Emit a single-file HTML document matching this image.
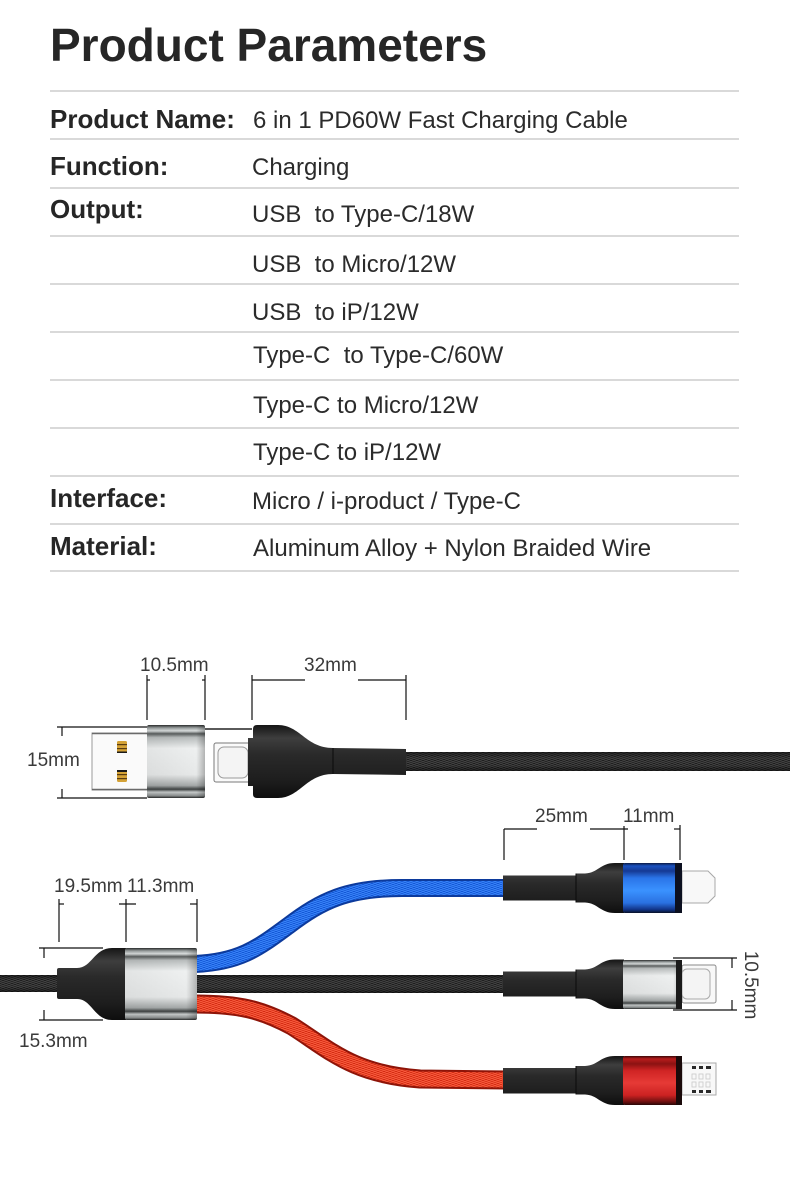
<!DOCTYPE html>
<html>
<head>
<meta charset="utf-8">
<style>
  html, body { margin:0; padding:0; background:#ffffff; }
  body { width:790px; height:1200px; overflow:hidden; position:relative; }
  svg { position:absolute; left:0; top:0; display:block; }
  .t { font-family:"Liberation Sans", Arial, sans-serif; fill:#262626; }
  .lb { font-weight:bold; font-size:26px; }
  .vl { font-size:24px; fill:#2b2b2b; }
  .dm { font-size:19px; fill:#3a3a3a; }
</style>
</head>
<body>
<svg width="790" height="1200" viewBox="0 0 790 1200" xmlns="http://www.w3.org/2000/svg">
  <defs>
    <pattern id="bk" width="6" height="4" patternUnits="userSpaceOnUse">
      <rect width="6" height="4" fill="#1d1d1d"/>
      <path d="M0,0 L3,2 L6,0 M0,2 L3,4 L6,2" stroke="#4a4a4a" stroke-width="0.8" fill="none"/>
    </pattern>
    <pattern id="bl" width="6" height="4" patternUnits="userSpaceOnUse">
      <rect width="6" height="4" fill="#1356d6"/>
      <path d="M0,0 L3,2 L6,0 M0,2 L3,4 L6,2" stroke="#3f8cff" stroke-width="0.8" fill="none"/>
    </pattern>
    <pattern id="rd" width="6" height="4" patternUnits="userSpaceOnUse">
      <rect width="6" height="4" fill="#d42a12"/>
      <path d="M0,0 L3,2 L6,0 M0,2 L3,4 L6,2" stroke="#ff6545" stroke-width="0.8" fill="none"/>
    </pattern>
    <linearGradient id="shade" x1="0" y1="0" x2="0" y2="1">
      <stop offset="0" stop-color="#000" stop-opacity="0.45"/>
      <stop offset="0.3" stop-color="#000" stop-opacity="0"/>
      <stop offset="0.7" stop-color="#000" stop-opacity="0"/>
      <stop offset="1" stop-color="#000" stop-opacity="0.5"/>
    </linearGradient>
    <linearGradient id="metal" x1="0" y1="0" x2="0" y2="1">
      <stop offset="0" stop-color="#2a2c2c"/>
      <stop offset="0.04" stop-color="#9aa0a0"/>
      <stop offset="0.08" stop-color="#d8dcdc"/>
      <stop offset="0.12" stop-color="#5a5e5e"/>
      <stop offset="0.17" stop-color="#b8bcbc"/>
      <stop offset="0.32" stop-color="#eef0f0"/>
      <stop offset="0.68" stop-color="#e6e8e8"/>
      <stop offset="0.83" stop-color="#a4a8a8"/>
      <stop offset="0.88" stop-color="#3e4242"/>
      <stop offset="0.92" stop-color="#c4c8c8"/>
      <stop offset="0.97" stop-color="#8a8e8e"/>
      <stop offset="1" stop-color="#262828"/>
    </linearGradient>
    <linearGradient id="metalH" x1="0" y1="0" x2="1" y2="0">
      <stop offset="0" stop-color="#000" stop-opacity="0.05"/>
      <stop offset="0.85" stop-color="#000" stop-opacity="0"/>
      <stop offset="1" stop-color="#000" stop-opacity="0.25"/>
    </linearGradient>
    <linearGradient id="blue" x1="0" y1="0" x2="0" y2="1">
      <stop offset="0" stop-color="#0a1a44"/>
      <stop offset="0.06" stop-color="#1a52c0"/>
      <stop offset="0.16" stop-color="#163a94"/>
      <stop offset="0.3" stop-color="#2a74e8"/>
      <stop offset="0.55" stop-color="#3a92ff"/>
      <stop offset="0.8" stop-color="#2a70e0"/>
      <stop offset="0.93" stop-color="#113488"/>
      <stop offset="1" stop-color="#081026"/>
    </linearGradient>
    <linearGradient id="red" x1="0" y1="0" x2="0" y2="1">
      <stop offset="0" stop-color="#3c0808"/>
      <stop offset="0.06" stop-color="#b81c1c"/>
      <stop offset="0.16" stop-color="#8c1212"/>
      <stop offset="0.3" stop-color="#d02424"/>
      <stop offset="0.55" stop-color="#e63a36"/>
      <stop offset="0.8" stop-color="#cc2222"/>
      <stop offset="0.93" stop-color="#701010"/>
      <stop offset="1" stop-color="#2a0606"/>
    </linearGradient>
    <linearGradient id="boot" x1="0" y1="0" x2="0" y2="1">
      <stop offset="0" stop-color="#151515"/>
      <stop offset="0.18" stop-color="#3e3e3e"/>
      <stop offset="0.4" stop-color="#2a2a2a"/>
      <stop offset="0.75" stop-color="#1e1e1e"/>
      <stop offset="1" stop-color="#0e0e0e"/>
    </linearGradient>
  </defs>

  <!-- ===== Title ===== -->
  <text class="t" x="50" y="61" font-size="46" font-weight="bold" fill="#222">Product Parameters</text>

  <!-- ===== Table lines ===== -->
  <g stroke="#d9d9d9" stroke-width="2">
    <line x1="50" y1="91" x2="739" y2="91"/>
    <line x1="50" y1="139" x2="739" y2="139"/>
    <line x1="50" y1="188" x2="739" y2="188"/>
    <line x1="50" y1="236" x2="739" y2="236"/>
    <line x1="50" y1="284" x2="739" y2="284"/>
    <line x1="50" y1="332" x2="739" y2="332"/>
    <line x1="50" y1="380" x2="739" y2="380"/>
    <line x1="50" y1="428" x2="739" y2="428"/>
    <line x1="50" y1="476" x2="739" y2="476"/>
    <line x1="50" y1="524" x2="739" y2="524"/>
    <line x1="50" y1="571" x2="739" y2="571"/>
  </g>

  <!-- labels -->
  <text class="t lb" x="50" y="128">Product Name:</text>
  <text class="t lb" x="50" y="175">Function:</text>
  <text class="t lb" x="50" y="218">Output:</text>
  <text class="t lb" x="50" y="507">Interface:</text>
  <text class="t lb" x="50" y="555">Material:</text>

  <!-- values -->
  <text class="t vl" x="253" y="128">6 in 1 PD60W Fast Charging Cable</text>
  <text class="t vl" x="252" y="175">Charging</text>
  <text class="t vl" x="252" y="222" xml:space="preserve">USB  to Type-C/18W</text>
  <text class="t vl" x="252" y="272" xml:space="preserve">USB  to Micro/12W</text>
  <text class="t vl" x="252" y="320" xml:space="preserve">USB  to iP/12W</text>
  <text class="t vl" x="253" y="363" xml:space="preserve">Type-C  to Type-C/60W</text>
  <text class="t vl" x="253" y="413">Type-C to Micro/12W</text>
  <text class="t vl" x="253" y="460">Type-C to iP/12W</text>
  <text class="t vl" x="252" y="509">Micro / i-product / Type-C</text>
  <text class="t vl" x="253" y="556">Aluminum Alloy + Nylon Braided Wire</text>

  <!-- ===== Top cable (USB + Type-C) ===== -->
  <!-- dimension lines -->
  <g stroke="#111" stroke-width="1.2" fill="none">
    <line x1="147" y1="675" x2="147" y2="720"/>
    <line x1="147" y1="680" x2="150" y2="680"/>
    <line x1="205" y1="675" x2="205" y2="720"/>
    <line x1="202" y1="680" x2="205" y2="680"/>
    <line x1="252" y1="675" x2="252" y2="720"/>
    <line x1="406" y1="675" x2="406" y2="720"/>
    <line x1="252" y1="680" x2="305" y2="680"/>
    <line x1="358" y1="680" x2="406" y2="680"/>
    <line x1="57" y1="727" x2="147" y2="727"/>
    <line x1="57" y1="798" x2="147" y2="798"/>
    <line x1="62" y1="727" x2="62" y2="736"/>
    <line x1="62" y1="789" x2="62" y2="798"/>
  </g>
  <text class="t dm" x="140" y="671">10.5mm</text>
  <text class="t dm" x="304" y="671">32mm</text>
  <text class="t dm" x="27" y="766">15mm</text>

  <!-- black braided cable -->
  <rect x="404" y="752" width="386" height="19" fill="url(#bk)"/>
  <rect x="404" y="752" width="386" height="19" fill="url(#shade)"/>

  <!-- USB-A plug -->
  <rect x="92" y="733" width="56" height="57" fill="#fafafa" stroke="#9a9a9a" stroke-width="1"/>
  <line x1="92" y1="733.5" x2="148" y2="733.5" stroke="#6a6a6a" stroke-width="1.5"/>
  <line x1="92" y1="789.5" x2="148" y2="789.5" stroke="#6a6a6a" stroke-width="1.5"/>
  <g>
    <rect x="117" y="741" width="10" height="12" rx="1.5" fill="#d4a236"/>
    <rect x="117" y="744" width="10" height="1.2" fill="#5a3c10"/>
    <rect x="117" y="748" width="10" height="1.2" fill="#5a3c10"/>
    <rect x="117" y="751.5" width="10" height="1.5" fill="#1a1a1a"/>
    <rect x="117" y="770" width="10" height="12" rx="1.5" fill="#d4a236"/>
    <rect x="117" y="770" width="10" height="2" fill="#1a1a1a"/>
    <rect x="117" y="774" width="10" height="1.2" fill="#5a3c10"/>
    <rect x="117" y="778" width="10" height="1.2" fill="#5a3c10"/>
  </g>
  <!-- metal housing -->
  <rect x="147" y="725" width="58" height="73" rx="2" fill="url(#metal)"/>
  <rect x="147" y="725" width="58" height="73" rx="2" fill="url(#metalH)"/>
  <!-- thin connecting line -->
  <line x1="205" y1="729" x2="252" y2="729" stroke="#5a5a5a" stroke-width="2"/>
  <!-- Type-C plug -->
  <rect x="214" y="743" width="36" height="39" rx="2" fill="#fafafa" stroke="#7a7a7a" stroke-width="1"/>
  <rect x="218" y="747" width="30" height="31" rx="6" fill="#f4f4f4" stroke="#9a9a9a" stroke-width="1"/>
  <!-- boot -->
  <path d="M248,738 L253,738 L253,729 Q253,725 257,725 L278,725 C300,725 306,748 333,748 L406,749 L406,775 L333,774 C306,774 300,798 278,798 L257,798 Q253,798 253,794 L253,786 L248,786 Z" fill="url(#boot)"/>
  <line x1="333" y1="748" x2="333" y2="774" stroke="#0a0a0a" stroke-width="1"/>

  <!-- ===== Bottom cable (splitter) ===== -->
  <g stroke="#111" stroke-width="1.2" fill="none">
    <line x1="59" y1="899" x2="59" y2="942"/>
    <line x1="59" y1="904" x2="64" y2="904"/>
    <line x1="126" y1="899" x2="126" y2="942"/>
    <line x1="119" y1="904" x2="136" y2="904"/>
    <line x1="197" y1="899" x2="197" y2="942"/>
    <line x1="190" y1="904" x2="197" y2="904"/>
    <line x1="39" y1="948" x2="103" y2="948"/>
    <line x1="39" y1="1020" x2="103" y2="1020"/>
    <line x1="44" y1="948" x2="44" y2="958"/>
    <line x1="44" y1="1010" x2="44" y2="1020"/>
  </g>
  <text class="t dm" x="54" y="892">19.5mm</text>
  <text class="t dm" x="127" y="892">11.3mm</text>
  <text class="t dm" x="19" y="1047">15.3mm</text>

  <!-- left black cable -->
  <rect x="0" y="975" width="60" height="17" fill="url(#bk)"/>
  <rect x="0" y="975" width="60" height="17" fill="url(#shade)"/>

  <!-- blue curved cable -->
  <path d="M195,964 C240,962 258,948 288,926 C322,900 348,888 402,888 L506,888" stroke="#0c3a9c" stroke-width="18" fill="none"/>
  <path d="M195,964 C240,962 258,948 288,926 C322,900 348,888 402,888 L506,888" stroke="url(#bl)" stroke-width="14" fill="none"/>
  <!-- red curved cable -->
  <path d="M195,1004 C240,1004 262,1010 292,1026 C330,1050 352,1074 420,1079 L506,1080" stroke="#8e1408" stroke-width="19" fill="none"/>
  <path d="M195,1004 C240,1004 262,1010 292,1026 C330,1050 352,1074 420,1079 L506,1080" stroke="url(#rd)" stroke-width="15" fill="none"/>
  <!-- black middle cable -->
  <rect x="195" y="975" width="311" height="18" fill="url(#bk)"/>
  <rect x="195" y="975" width="311" height="18" fill="url(#shade)"/>

  <!-- splitter boot -->
  <path d="M57,970 Q57,968 59,968 L77,968 C92,968 94,948 112,948 L126,948 L126,1020 L112,1020 C94,1020 92,999 77,999 L59,999 Q57,999 57,997 Z" fill="url(#boot)"/>
  <!-- splitter metal sleeve -->
  <rect x="125" y="948" width="72" height="72" rx="2" fill="url(#metal)"/>
  <rect x="125" y="948" width="72" height="72" rx="2" fill="url(#metalH)"/>

  <!-- ===== Right connectors ===== -->
  <!-- dims -->
  <g stroke="#111" stroke-width="1.2" fill="none">
    <line x1="504" y1="829" x2="504" y2="860"/>
    <line x1="504" y1="829" x2="537" y2="829"/>
    <line x1="590" y1="829" x2="628" y2="829"/>
    <line x1="624" y1="826" x2="624" y2="860"/>
    <line x1="674" y1="829" x2="680" y2="829"/>
    <line x1="680" y1="825" x2="680" y2="860"/>
    <line x1="673" y1="958" x2="737" y2="958"/>
    <line x1="673" y1="1010" x2="737" y2="1010"/>
    <line x1="732" y1="958" x2="732" y2="968"/>
    <line x1="732" y1="1000" x2="732" y2="1010"/>
  </g>
  <text class="t dm" x="535" y="822">25mm</text>
  <text class="t dm" x="623" y="822">11mm</text>
  <text class="t dm" x="0" y="0" text-anchor="middle" transform="translate(745,985) rotate(90)">10.5mm</text>

  <!-- Blue / Lightning connector (cy=888) -->
  <path d="M682,871 L708,871 L715,878 L715,896 L708,903 L682,903 Z" fill="#f8f8f8" stroke="#a8a8a8" stroke-width="1"/>
  <path d="M503,875.5 L576,875.5 L576,873.5 L585,873.5 C598,873 600,863 615,863 L624,863 L624,913 L615,913 C600,913 598,903 585,902.5 L576,902.5 L576,900.5 L503,900.5 Z" fill="url(#boot)"/>
  <line x1="576" y1="873.5" x2="576" y2="902.5" stroke="#0a0a0a" stroke-width="1"/>
  <rect x="623" y="863" width="59" height="50" rx="2" fill="url(#blue)"/>
  <rect x="675" y="863" width="7" height="50" fill="#0c1020"/>

  <!-- Type-C connector (cy=984) -->
  <rect x="682" y="965" width="34" height="38" rx="2" fill="#f8f8f8" stroke="#8a8a8a" stroke-width="1"/>
  <rect x="682" y="969" width="28" height="30" rx="5" fill="#f4f4f4" stroke="#aaaaaa" stroke-width="1"/>
  <path d="M503,971.5 L576,971.5 L576,969.5 L585,969.5 C598,969 600,959.5 615,959.5 L624,959.5 L624,1009 L615,1009 C600,1009 598,999 585,998.5 L576,998.5 L576,996.5 L503,996.5 Z" fill="url(#boot)"/>
  <line x1="576" y1="969.5" x2="576" y2="998.5" stroke="#0a0a0a" stroke-width="1"/>
  <rect x="623" y="960" width="59" height="49" rx="2" fill="url(#metal)"/>
  <rect x="623" y="960" width="59" height="49" rx="2" fill="url(#metalH)"/>
  <rect x="676" y="960" width="6" height="49" fill="#1a1a1a"/>

  <!-- Red / Micro connector (cy=1080) -->
  <rect x="682" y="1063" width="34" height="32" fill="#f8f8f8" stroke="#a8a8a8" stroke-width="1"/>
  <g fill="#2a2a2a">
    <rect x="692" y="1066" width="4" height="3"/>
    <rect x="699" y="1066" width="4" height="3"/>
    <rect x="706" y="1066" width="5" height="3"/>
    <rect x="692" y="1090" width="4" height="3"/>
    <rect x="699" y="1090" width="4" height="3"/>
    <rect x="706" y="1090" width="5" height="3"/>
  </g>
  <g fill="none" stroke="#c8c8c8" stroke-width="0.8">
    <rect x="692" y="1074" width="4" height="5"/>
    <rect x="699" y="1074" width="4" height="5"/>
    <rect x="706" y="1074" width="4" height="5"/>
    <rect x="692" y="1082" width="4" height="5"/>
    <rect x="699" y="1082" width="4" height="5"/>
    <rect x="706" y="1082" width="4" height="5"/>
  </g>
  <path d="M503,1068 L576,1068 L576,1066 L585,1066 C598,1065.5 600,1056 615,1056 L624,1056 L624,1105 L615,1105 C600,1105 598,1095 585,1094.5 L576,1094.5 L576,1093.5 L503,1093.5 Z" fill="url(#boot)"/>
  <line x1="576" y1="1066" x2="576" y2="1094.5" stroke="#0a0a0a" stroke-width="1"/>
  <rect x="623" y="1056" width="59" height="49" rx="2" fill="url(#red)"/>
  <rect x="676" y="1056" width="6" height="49" fill="#1a0a0a"/>
</svg>
</body>
</html>
